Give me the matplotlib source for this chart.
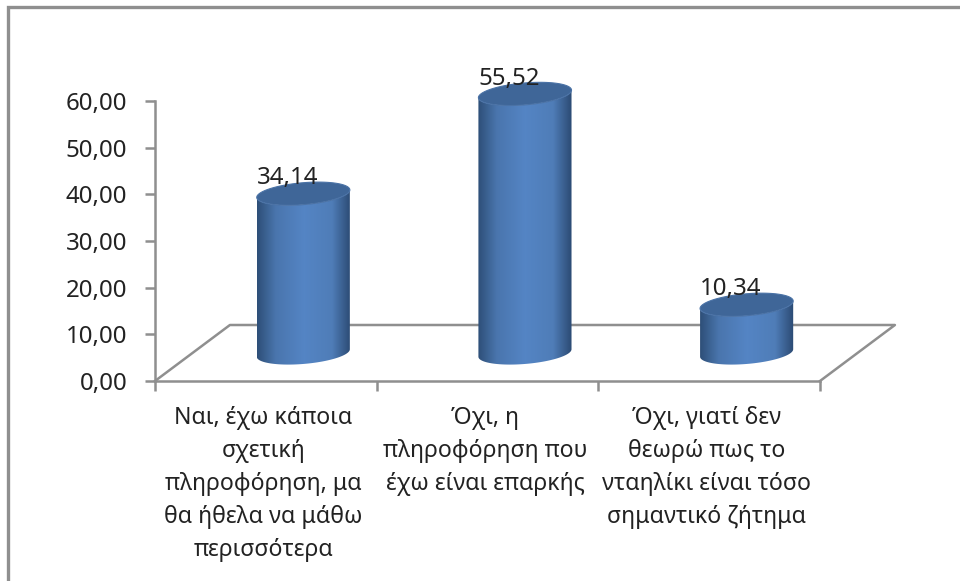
import numpy as np
import matplotlib
matplotlib.use('Agg')
import matplotlib.pyplot as plt
from matplotlib.patches import Polygon, Rectangle

plt.rcParams['font.family'] = ['Noto Sans', 'DejaVu Sans']

categories = ['Ναι, έχω κάποια\nσχετική\nπληροφόρηση, μα\nθα ήθελα να μάθω\nπερισσότερα',
              'Όχι, η\nπληροφόρηση που\nέχω είναι επαρκής',
              'Όχι, γιατί δεν\nθεωρώ πως το\nνταηλίκι είναι τόσο\nσημαντικό ζήτημα']
values = [34.14, 55.52, 10.34]
value_labels = ['34,14', '55,52', '10,34']
y_ticks = [0, 10, 20, 30, 40, 50, 60]
y_tick_labels = ['0,00', '10,00', '20,00', '30,00', '40,00', '50,00', '60,00']

GRAY = '#8f8f8f'
TEXT = '#222222'
DEPTH_X = 0.338   # fondo del suelo en unidades de categoria
DEPTH_Y = 12.0
HALF_W = 0.21
ELL_B = 2.35
ELL_K = 0.8

fig = plt.figure(figsize=(9.6, 5.81), dpi=100)
ax = fig.add_axes([155 / 960, 200 / 581, 665 / 960, 350 / 581])
ax.patch.set_visible(False)

# marco del grafico
fig.add_artist(Rectangle((8 / 960, -0.1), 1.2, (574 + 0.1 * 581) / 581, transform=fig.transFigure,
                         facecolor='white', edgecolor=GRAY, linewidth=2.4, zorder=-5))

# suelo en perspectiva
floor_x = [-0.5, -0.5 + DEPTH_X, 2.5 + DEPTH_X, 2.5]
floor_y = [0, DEPTH_Y, DEPTH_Y, 0]
ax.plot(floor_x, floor_y, color=GRAY, lw=1.8, clip_on=False, zorder=1)

# gradiente horizontal del cilindro
stops = np.array([[0.18, 0.31, 0.47], [0.29, 0.46, 0.68], [0.33, 0.52, 0.77],
                  [0.31, 0.49, 0.72], [0.17, 0.29, 0.45]])
pos = np.linspace(0, 1, 256)
grad = np.stack([np.interp(pos, [0, 0.2, 0.5, 0.8, 1], stops[:, c]) for c in range(3)], axis=1)[None, :, :]

t = np.linspace(0, 2 * np.pi, 160)
tt = np.linspace(np.pi, 2 * np.pi, 80)
for i, v in enumerate(values):
    cx = i + DEPTH_X / 2
    y0 = DEPTH_Y / 2
    y1 = y0 + v

    # cuerpo: mitad inferior de la elipse de abajo y de la de arriba
    bx = cx + HALF_W * np.cos(tt)
    by = ELL_B * np.sin(tt) + ELL_K * np.cos(tt)
    body_x = np.concatenate([bx, bx[::-1]])
    body_y = np.concatenate([by + y0, by[::-1] + y1])
    body = Polygon(np.column_stack([body_x, body_y]), closed=True,
                   facecolor='none', edgecolor='none')
    ax.add_patch(body)
    im = ax.imshow(grad, extent=[cx - HALF_W, cx + HALF_W, y0 - 5, y1 + 5], aspect='auto',
                   zorder=2, interpolation='bilinear')
    im.set_clip_path(body)

    # tapa
    ex = cx + HALF_W * np.cos(t)
    ey = ELL_B * np.sin(t) + ELL_K * np.cos(t)
    ax.add_patch(Polygon(np.column_stack([ex, ey + y1]), closed=True,
                         facecolor='#3f6698', edgecolor='#4a72a6', lw=0.8, zorder=3))
    ax.text(cx - 0.07, v + 9.3, value_labels[i], ha='center', va='center', fontsize=17.3,
            color=TEXT, zorder=4, clip_on=False)

ax.set_xlim(-0.5, 2.5)
ax.set_ylim(0, 75)

for s in ['top', 'right']:
    ax.spines[s].set_visible(False)
ax.spines['left'].set_bounds(0, 60)
ax.spines['left'].set_color(GRAY)
ax.spines['bottom'].set_color(GRAY)
ax.spines['left'].set_linewidth(1.8)
ax.spines['bottom'].set_linewidth(1.8)

ax.set_yticks(y_ticks)
ax.set_yticklabels(y_tick_labels, fontsize=17.3, color=TEXT)
ax.tick_params(axis='y', length=7, width=1.8, color=GRAY, pad=13)

ax.set_xticks([-0.5, 0.5, 1.5, 2.5])
ax.set_xticklabels([])
ax.tick_params(axis='x', length=7, width=1.8, color=GRAY)
ax.set_xticks([-0.01, 0.99, 1.99], minor=True)
ax.set_xticklabels(categories, minor=True, fontsize=16.6, color=TEXT, linespacing=1.5)
ax.tick_params(axis='x', which='minor', length=0, pad=18)

fig.savefig('out.png', dpi=100)
